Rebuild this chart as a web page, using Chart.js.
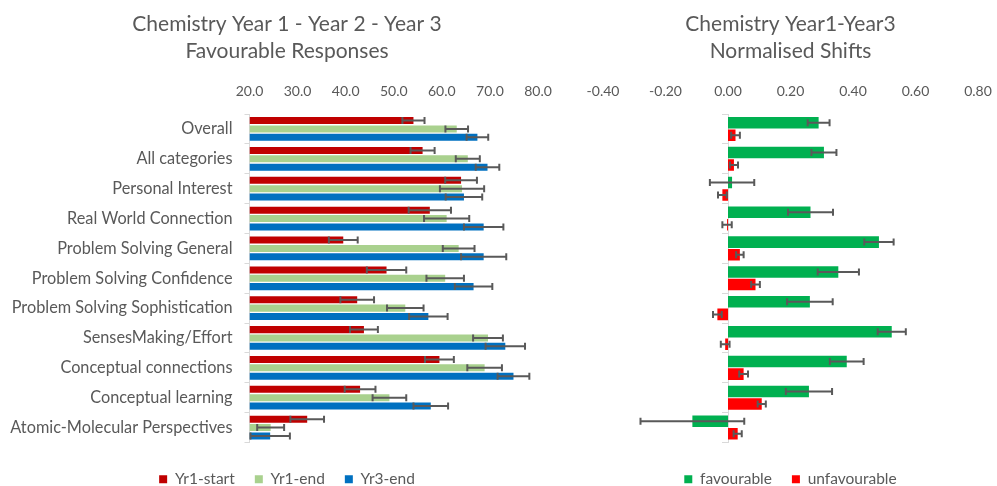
<!DOCTYPE html>
<html>
<head>
<meta charset="utf-8">
<script src="https://cdn.jsdelivr.net/npm/chart.js@4.4.1/dist/chart.umd.min.js"></script>
<style>
  html, body { margin: 0; padding: 0; background: #fff; }
  #wrap { position: relative; width: 997px; height: 486px; }
  #left { position: absolute; left: 0; top: 0; }
  #right { position: absolute; left: 574px; top: 0; }
</style>
</head>
<body>
<div id="wrap">
  <canvas id="left" width="574" height="486"></canvas>
  <canvas id="right" width="423" height="486"></canvas>
</div>
<script>
const categories = ["Overall", "All categories", "Personal Interest", "Real World Connection",
  "Problem Solving General", "Problem Solving Confidence", "Problem Solving Sophistication",
  "SensesMaking/Effort", "Conceptual connections", "Conceptual learning", "Atomic-Molecular Perspectives"];

// favourable responses (%)
const yr1Start = [54.1, 56.0, 64.0, 57.5, 39.5, 48.5, 42.4, 43.8, 59.5, 43.0, 32.0];
const yr1End   = [63.1, 65.4, 64.2, 61.0, 63.5, 60.7, 52.4, 69.6, 68.9, 49.1, 24.4];
const yr3End   = [67.4, 69.5, 64.6, 68.7, 68.7, 66.6, 57.2, 73.2, 74.9, 57.7, 24.3];
const yr1StartErr = [2.3, 2.5, 3.3, 4.4, 3.0, 4.1, 3.5, 2.9, 3.0, 3.2, 3.5];
const yr1EndErr   = [2.35, 2.5, 4.6, 4.7, 3.3, 3.9, 3.8, 3.1, 3.6, 3.5, 2.8];
const yr3EndErr   = [2.25, 2.45, 3.8, 4.1, 4.7, 3.9, 4.0, 4.1, 3.3, 3.6, 4.1];

// normalised shifts
const favourable   = [0.290, 0.307, 0.013, 0.264, 0.483, 0.353, 0.262, 0.524, 0.380, 0.259, -0.114];
const unfavourable = [0.024, 0.019, -0.018, -0.003, 0.038, 0.088, -0.034, -0.009, 0.050, 0.108, 0.031];
const favourableErr   = [0.035, 0.040, 0.071, 0.072, 0.047, 0.066, 0.073, 0.045, 0.054, 0.074, 0.166];
const unfavourableErr = [0.014, 0.013, 0.014, 0.015, 0.012, 0.014, 0.014, 0.014, 0.014, 0.013, 0.013];

const textColor = "#595959";
const axisColor = "#D9D9D9";
const fontFamily = "Lato, 'Open Sans', sans-serif";

const errorBars = {
  id: 'errorBars',
  afterDatasetsDraw(chart) {
    const ctx = chart.ctx;
    const xs = chart.scales.x;
    ctx.save();
    ctx.strokeStyle = "#595959";
    ctx.lineWidth = 2;
    chart.data.datasets.forEach((ds, i) => {
      const meta = chart.getDatasetMeta(i);
      meta.data.forEach((bar, j) => {
        const v = ds.data[j], e = ds.errors[j];
        const x1 = xs.getPixelForValue(v - e);
        const x2 = xs.getPixelForValue(v + e);
        const y = bar.y;
        ctx.beginPath();
        ctx.moveTo(x1, y); ctx.lineTo(x2, y);
        ctx.moveTo(x1, y - 3.5); ctx.lineTo(x1, y + 3.5);
        ctx.moveTo(x2, y - 3.5); ctx.lineTo(x2, y + 3.5);
        ctx.stroke();
      });
    });
    ctx.restore();
  }
};

function titleOpts(lines) {
  return {
    display: true,
    text: lines,
    color: textColor,
    font: { family: fontFamily, size: 21, weight: 'normal', lineHeight: 1.286 },
    padding: { top: 11, bottom: 0 }
  };
}

function legendOpts() {
  return {
    position: 'bottom',
    // empty legend title only used as a spacer above the items
    title: { display: true, text: '', font: { size: 9, lineHeight: 1 }, padding: 0 },
    labels: {
      boxWidth: 8, boxHeight: 8, padding: 20, color: textColor,
      font: { family: fontFamily, size: 15.5 }
    }
  };
}

function xTicks(fmt) {
  return { color: textColor, padding: 4, callback: fmt, font: { family: fontFamily, size: 14 } };
}

new Chart(document.getElementById('left'), {
  type: 'bar',
  data: {
    labels: categories,
    datasets: [
      { label: 'Yr1-start', data: yr1Start, errors: yr1StartErr, backgroundColor: '#C00000', base: 20 },
      { label: 'Yr1-end', data: yr1End, errors: yr1EndErr, backgroundColor: '#A9D18E', base: 20 },
      { label: 'Yr3-end', data: yr3End, errors: yr3EndErr, backgroundColor: '#0070C0', base: 20 }
    ]
  },
  options: {
    indexAxis: 'y',
    responsive: false,
    animation: false,
    devicePixelRatio: 1,
    categoryPercentage: 0.84,
    barPercentage: 0.84,
    borderWidth: 0,
    layout: { padding: { left: 0, right: 0, top: 0, bottom: -11 } },
    scales: {
      x: {
        position: 'top', min: 20, max: 80,
        ticks: Object.assign(xTicks(v => v.toFixed(1)), { stepSize: 10 }),
        grid: { display: false, drawTicks: true, tickLength: 10 },
        border: { display: false },
        afterFit: s => { s.height = 49; }
      },
      y: {
        ticks: { color: textColor, padding: 12, font: { family: fontFamily, size: 16.3 } },
        grid: { drawOnChartArea: false, color: axisColor, tickLength: 5 },
        border: { color: axisColor },
        afterFit: s => { s.width = 249.5; }
      },
      // empty spacer on the right so the title and legend centre like the original
      yPad: {
        type: 'category', axis: 'y', position: 'right',
        ticks: { display: false }, grid: { display: false }, border: { display: false },
        afterFit: s => { s.width = 36; }
      }
    },
    plugins: {
      title: titleOpts(["Chemistry Year 1 - Year 2 - Year 3", "Favourable Responses"]),
      legend: legendOpts(),
      tooltip: { enabled: false }
    }
  },
  plugins: [errorBars]
});

new Chart(document.getElementById('right'), {
  type: 'bar',
  data: {
    labels: categories,
    datasets: [
      { label: 'favourable', data: favourable, errors: favourableErr, backgroundColor: '#00B050' },
      { label: 'unfavourable', data: unfavourable, errors: unfavourableErr, backgroundColor: '#FF0000' }
    ]
  },
  options: {
    indexAxis: 'y',
    responsive: false,
    animation: false,
    devicePixelRatio: 1,
    categoryPercentage: 0.84,
    barPercentage: 0.92,
    borderWidth: 0,
    layout: { padding: { left: 29, right: 19, top: 0, bottom: -11 } },
    scales: {
      x: {
        position: 'top', min: -0.4, max: 0.8,
        ticks: Object.assign(xTicks(v => (Math.abs(v) < 1e-9 ? 0 : v).toFixed(2)), { stepSize: 0.2 }),
        grid: { display: false, drawTicks: true, tickLength: 10 },
        border: { display: false },
        afterFit: s => { s.height = 49; }
      },
      y: {
        position: { x: 0 },
        ticks: { display: false },
        grid: { drawOnChartArea: false, color: axisColor, tickLength: 6 },
        border: { color: axisColor }
      }
    },
    plugins: {
      title: titleOpts(["Chemistry Year1-Year3", "Normalised Shifts"]),
      legend: legendOpts(),
      tooltip: { enabled: false }
    }
  },
  plugins: [errorBars]
});
</script>
</body>
</html>
